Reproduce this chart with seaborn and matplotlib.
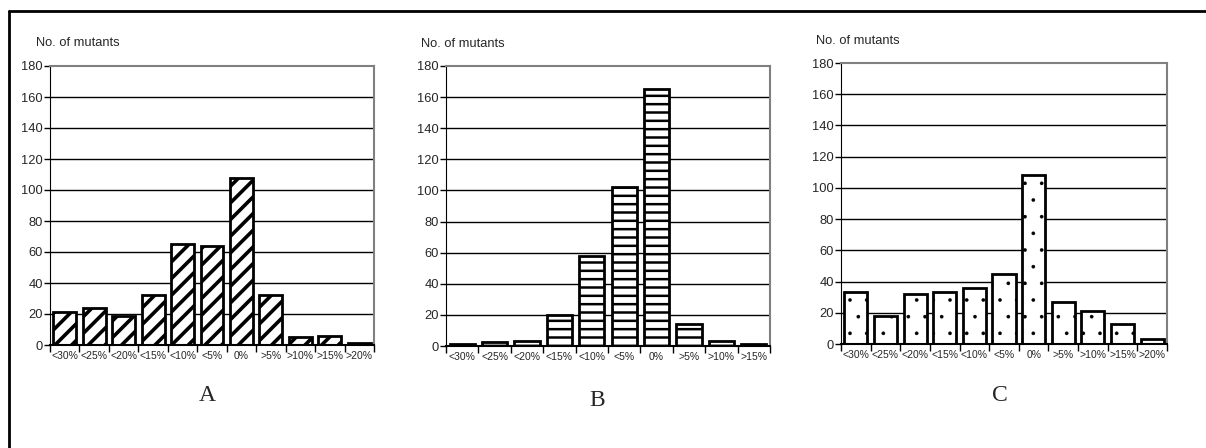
import matplotlib
matplotlib.use("Agg")
import matplotlib.pyplot as plt
import seaborn as sns
import pandas as pd

# Bins of relative change and the number of mutants per bin
cats_a = ["<30%", "<25%", "<20%", "<15%", "<10%", "<5%", "0%", ">5%", ">10%", ">15%", ">20%"]
vals_a = [21, 24, 19, 32, 65, 64, 108, 32, 5, 6, 1.5]

cats_b = ["<30%", "<25%", "<20%", "<15%", "<10%", "<5%", "0%", ">5%", ">10%", ">15%"]
vals_b = [1.3, 2.4, 3.4, 20, 58, 102, 165, 14, 3.4, 1.3]

cats_c = ["<30%", "<25%", "<20%", "<15%", "<10%", "<5%", "0%", ">5%", ">10%", ">15%", ">20%"]
vals_c = [33, 18, 32, 33, 36, 45, 108, 27, 21, 13, 3.4]

panel_letters = ["A", "B", "C"]
y_label = "No. of mutants"
y_ticks = [0, 20, 40, 60, 80, 100, 120, 140, 160, 180]

sns.set_style("white")
plt.rcParams["font.family"] = ["Liberation Sans", "DejaVu Sans"]
plt.rcParams["hatch.color"] = "black"

W, H = 1206, 448
fig = plt.figure(figsize=(W / 100, H / 100), dpi=100)

# axes boxes in pixels: left, right, top, bottom
boxes = [(50, 374, 66, 345), (446, 770, 66, 346), (841, 1167, 63, 344)]
hatches = ["//", "--", "."]
hatch_lw = [2.6, 1.8, 0.2]
label_pos = [(36, 43), (421, 44), (816, 41)]
letter_pos = [(207, 395), (597, 400), (1000, 395)]

panels = [(cats_a, vals_a), (cats_b, vals_b), (cats_c, vals_c)]

for i, (cats, vals) in enumerate(panels):
    l, r, t, b = boxes[i]
    ax = fig.add_axes([l / W, (H - b) / H, (r - l) / W, (b - t) / H])
    plt.rcParams["hatch.linewidth"] = hatch_lw[i]
    df = pd.DataFrame({"bin": cats, "count": vals})
    sns.barplot(data=df, x="bin", y="count", order=cats, color="white",
                edgecolor="black", linewidth=2.0, width=0.78, ax=ax,
                saturation=1, zorder=3)
    for p in ax.patches:
        p.set_hatch(hatches[i])
        p.set_facecolor("white")
        p.set_edgecolor("black")
        if hasattr(p, "set_hatch_linewidth"):
            p.set_hatch_linewidth(hatch_lw[i])
    n = len(cats)
    ax.set_xlim(-0.5, n - 0.5)
    ax.set_ylim(0, 180)
    ax.set_yticks(y_ticks)
    ax.set_yticklabels([str(v) for v in y_ticks], fontsize=9.3)
    ax.set_xlabel("")
    ax.set_ylabel("")
    # category labels centred, tick marks on the bin boundaries
    ax.set_xticks(range(n))
    ax.set_xticklabels(cats, fontsize=7.5)
    ax.set_xticks([k - 0.5 for k in range(n + 1)], minor=True)
    ax.tick_params(axis="x", which="major", length=0, pad=4)
    ax.tick_params(axis="x", which="minor", length=5, width=1, color="black",
                   direction="out", bottom=True)
    ax.tick_params(axis="y", which="major", length=4, width=1, color="black",
                   direction="out", left=True, pad=1)
    for y in y_ticks[1:-1]:
        ax.axhline(y, color="black", linewidth=1, zorder=1)
    ax.spines["left"].set_color("black")
    ax.spines["bottom"].set_color("black")
    ax.spines["bottom"].set_linewidth(1.5)
    ax.spines["top"].set_color("#808080")
    ax.spines["right"].set_color("#808080")
    ax.spines["top"].set_linewidth(1.5)
    ax.spines["right"].set_linewidth(1.5)
    for s in ax.spines.values():
        s.set_zorder(4)

    lx, ly = label_pos[i]
    fig.text(lx / W, 1 - ly / H, y_label, fontsize=9.3, ha="left", va="center")
    px, py = letter_pos[i]
    fig.text(px / W, 1 - py / H, panel_letters[i], fontsize=17,
             family=["Liberation Serif", "DejaVu Serif"], ha="center", va="center")

# frame lines along the top and left of the figure
fig.add_artist(plt.Line2D([9 / W, 1.0], [1 - 11 / H, 1 - 11 / H],
                          transform=fig.transFigure, color="black", linewidth=2))
fig.add_artist(plt.Line2D([9 / W, 9 / W], [1 - 11 / H, 0.0],
                          transform=fig.transFigure, color="black", linewidth=2))

fig.savefig("out.png", dpi=100, facecolor="white")
